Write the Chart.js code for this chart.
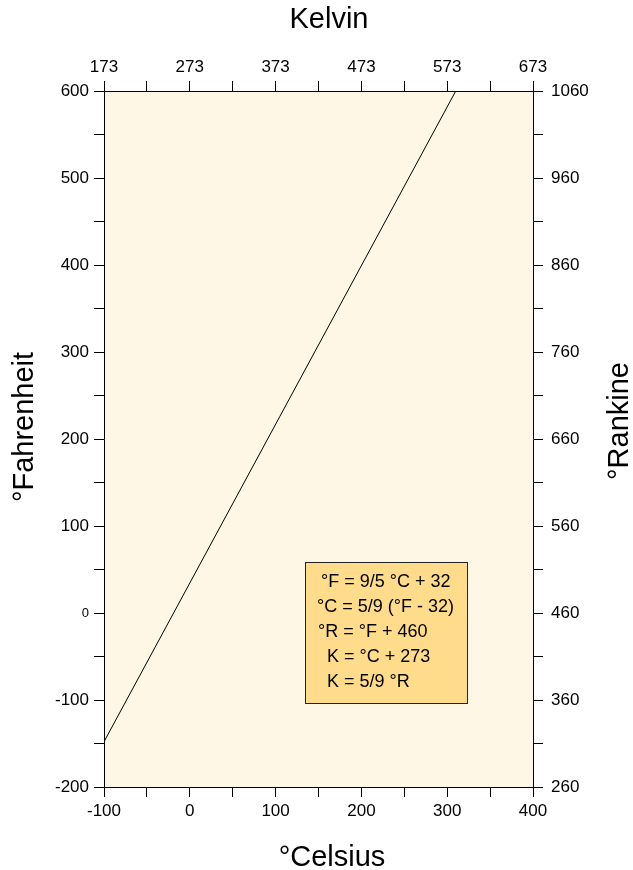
<!DOCTYPE html>
<html>
<head>
<meta charset="utf-8">
<script src="https://cdn.jsdelivr.net/npm/chart.js@4"></script>
<style>
  html, body { margin:0; padding:0; background:#ffffff; }
  #wrap { width:633px; height:870px; }
</style>
</head>
<body>
<div id="wrap"><canvas id="tempChart" width="633" height="870"></canvas></div>
<script>

// =====================================
// DATA
// =====================================

// °Celsius / °Fahrenheit points of the line
const celsiusPoints = [-100, 310];
const fahrenheitPoints = [-148, 600];

// axis ranges
const celsiusRange = [-100, 400];
const kelvinRange = [173, 673];
const fahrenheitRange = [-200, 600];
const rankineRange = [260, 1060];

// axis titles
const bottomTitle = "°Celsius";
const topTitle = "Kelvin";
const leftTitle = "°Fahrenheit";
const rightTitle = "°Rankine";

// formula box
const formulaLines = [
  "°F = 9/5 °C + 32",
  "°C = 5/9 (°F - 32)",
  "°R = °F + 460",
  "K = °C + 273",
  "K = 5/9 °R"
];

const FONT = "'Liberation Sans', Arial, Helvetica, sans-serif";

// =====================================
// PLUGINS
// =====================================

const plotBackground = {
  id:"plotBackground",
  beforeDraw(chart){
    const {ctx, chartArea:a} = chart;
    ctx.save();
    ctx.fillStyle = "#fef7e6";
    ctx.fillRect(a.left, a.top, a.right - a.left, a.bottom - a.top);
    ctx.restore();
  }
};

function upwardText(ctx, text, x, y){
  ctx.save();
  ctx.translate(x, y);
  ctx.rotate(-Math.PI / 2);
  ctx.fillText(text, 0, 0);
  ctx.restore();
}

const extras = {
  id:"extras",
  afterDraw(chart){
    const {ctx, chartArea:a} = chart;
    ctx.save();

    // formula box
    const bx = a.left + 201;
    const by = a.top + 471;
    const bw = 162;
    const bh = 141;
    ctx.fillStyle = "#ffdb8c";
    ctx.fillRect(bx, by, bw, bh);
    ctx.strokeStyle = "#222";
    ctx.lineWidth = 1;
    ctx.strokeRect(bx + .5, by + .5, bw, bh);

    ctx.fillStyle = "#000";
    ctx.font = "18px " + FONT;
    ctx.textBaseline = "middle";
    ctx.textAlign = "left";
    const xs = [16, 12, 13, 22, 22];
    formulaLines.forEach((t, i) => {
      ctx.fillText(t, bx + xs[i], by + 20 + i * 25);
    });

    // axis titles
    ctx.font = "29px " + FONT;
    ctx.textAlign = "center";
    ctx.textBaseline = "alphabetic";
    ctx.fillText(topTitle, 329, 28);
    ctx.fillText(bottomTitle, 332, 866);
    upwardText(ctx, leftTitle, 33, 427);
    upwardText(ctx, rightTitle, 628, 421);

    ctx.restore();
  }
};

// =====================================
// AXIS HELPER
// =====================================

const tickPadding = { top:3, bottom:4, left:5, right:8 };

function axis(position, range, base, size){

  const horizontal = position === "top" || position === "bottom";

  return {
    type:"linear",
    position,
    min:range[0],
    max:range[1],
    afterBuildTicks(scale){
      const ticks = [];
      for(let v = range[0]; v <= range[1]; v += 50){
        ticks.push({value:v});
      }
      scale.ticks = ticks;
    },
    afterFit(scale){
      if(horizontal){
        scale.height = size;
      }
      else{
        scale.width = size;
      }
    },
    border:{ display:true, color:"#000", width:1 },
    grid:{
      drawOnChartArea:false,
      drawTicks:true,
      tickLength:10,
      color:"#000",
      lineWidth:1
    },
    ticks:{
      autoSkip:false,
      maxRotation:0,
      color:"#000",
      padding: tickPadding[position],
      font: c => ({
        family:FONT,
        size: (c.tick && c.tick.value === 0 && position === "left") ? 13 : 17
      }),
      callback: v => ((v - base) % 100 === 0 ? String(v) : "")
    },
    title:{ display:false }
  };
}

// =====================================
// CHART
// =====================================

const ctx = document.getElementById("tempChart").getContext("2d");

new Chart(ctx, {
  type:"scatter",
  data:{
    datasets:[
      {
        data: celsiusPoints.map((c, i) => ({x:c, y:fahrenheitPoints[i]})),
        showLine:true,
        borderColor:"#000",
        borderWidth:1,
        pointRadius:0,
        xAxisID:"x",
        yAxisID:"y"
      }
    ]
  },
  options:{
    responsive:false,
    animation:false,
    layout:{ padding:0 },
    plugins:{
      legend:{ display:false },
      tooltip:{ enabled:false }
    },
    scales:{
      x: axis("bottom", celsiusRange, -100, 83),
      x2: axis("top", kelvinRange, 173, 91),
      y: axis("left", fahrenheitRange, -200, 104),
      y2: axis("right", rankineRange, 260, 100)
    }
  },
  plugins:[plotBackground, extras]
});

</script>
</body>
</html>
